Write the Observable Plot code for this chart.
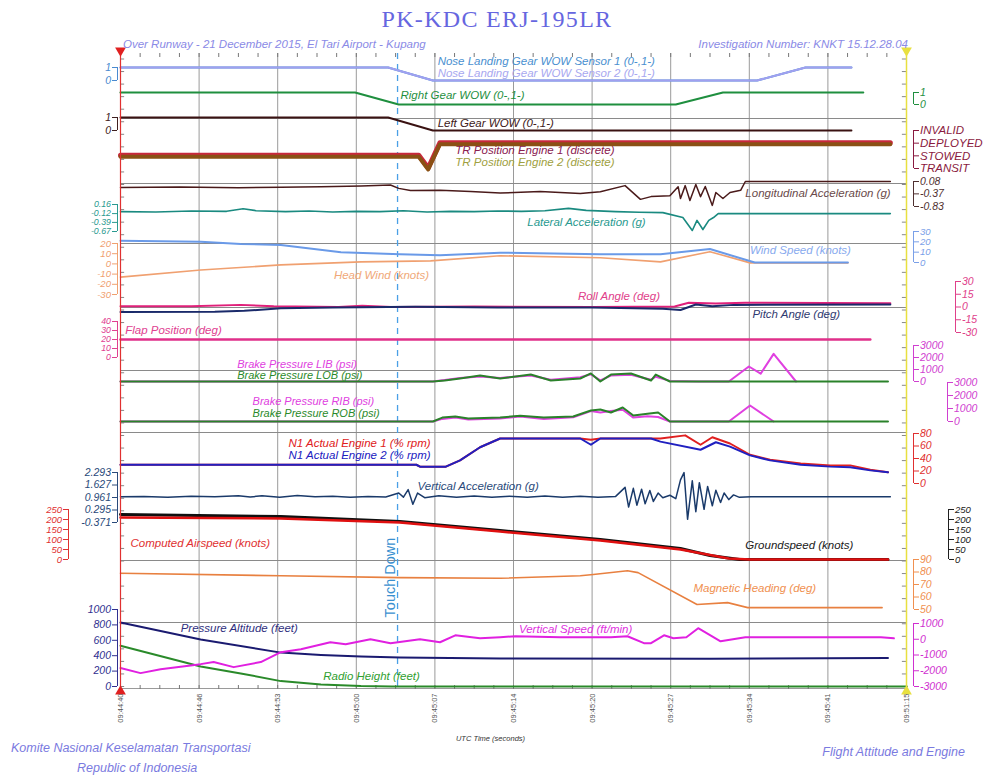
<!DOCTYPE html>
<html><head><meta charset="utf-8">
<script src="https://cdn.jsdelivr.net/npm/d3@7"></script>
<script src="https://cdn.jsdelivr.net/npm/@observablehq/plot@0.6"></script>
<style>
body{margin:0;background:#fff;}
#wrap{position:relative;width:994px;height:776px;overflow:hidden;font-family:"Liberation Sans",Arial,sans-serif;background:#fff;}
#chart{position:absolute;left:0;top:0;}
.t{position:absolute;white-space:nowrap;font-style:italic;transform:translateY(-50%);line-height:1;}
</style></head><body>
<div id="wrap">
  <div id="chart"></div>
  <div class="t" style="left:0;width:994px;text-align:center;top:19px;font-style:normal;font-family:'Liberation Serif','DejaVu Serif',serif;font-size:24px;letter-spacing:1.3px;color:#6666e0;">PK-KDC ERJ-195LR</div>
  <div class="t" style="left:123px;top:45px;font-size:11.5px;color:#8a8ae6;">Over Runway - 21 December 2015, El Tari Airport - Kupang</div>
  <div class="t" style="right:86px;top:45px;font-size:11.5px;color:#8a8ae6;">Investigation Number: KNKT 15.12.28.04</div>
  <div class="t" style="left:11px;top:748px;font-size:12.5px;color:#7a7ae0;">Komite Nasional Keselamatan Transportasi</div>
  <div class="t" style="left:77px;top:768px;font-size:12.5px;color:#7a7ae0;">Republic of Indonesia</div>
  <div class="t" style="right:29px;top:752px;font-size:12.5px;color:#7a7ae0;">Flight Attitude and Engine</div>
</div>
<script>
// ---------------- DATA (time in seconds after 09:44:40, value in channel units) ----------------
const timeTickLabels = ["09:44:40","09:44:46","09:44:53","09:45:00","09:45:07","09:45:14","09:45:20","09:45:27","09:45:34","09:45:41","09:51:15"];
const timeSpan = 66.67;
const touchDownTime = 23.5;

const noseWowSensor1 = [[0,1],[22.7,1],[26.5,0],[54.0,0],[58.1,1],[62.0,1]];
const noseWowSensor2 = [[0,1],[22.7,1],[26.5,0],[54.0,0],[58.1,1],[62.0,1]];
const rightGearWow = [[0,1],[19.9,1],[23.6,0],[47.1,0],[51.1,1],[63.0,1]];
const leftGearWow = [[0,1],[22.7,1],[26.5,0],[62.0,0]];
const trEngine1 = [[0,1],[25.3,1],[26.1,0],[27.1,2],[65.3,2]];
const trEngine2 = [[0,1],[25.3,1],[26.1,0],[27.1,2],[65.3,2]];
const longitudinalAcc = [[0,-0.14],[5,-0.12],[10,-0.15],[13.6,-0.13],[17,-0.11],[20.4,-0.08],[22.9,-0.05],[23.6,-0.17],[24.6,-0.25],[27.1,-0.24],[29.7,-0.28],[32.2,-0.34],[35.6,-0.28],[39.0,-0.36],[40.7,-0.29],[42.8,-0.07],[44.1,-0.57],[45.0,-0.47],[46.6,-0.44],[47.3,-0.11],[47.5,-0.54],[47.9,-0.07],[48.3,-0.61],[48.8,-0.03],[49.2,-0.47],[49.6,-0.10],[50.2,-0.79],[50.5,-0.32],[51.1,-0.54],[51.7,-0.32],[52.6,-0.24],[53.0,0.08],[65.3,0.08]];
const lateralAcc = [[0,-0.06],[3,-0.07],[6,-0.04],[9,-0.05],[10.4,0.03],[11.5,-0.03],[14,-0.06],[16,-0.04],[18,-0.07],[20,-0.05],[22,-0.06],[24,-0.03],[26,-0.07],[28,-0.05],[30,-0.06],[32,-0.04],[34,-0.05],[36,-0.03],[38,0.04],[39.5,-0.02],[42,-0.06],[44,-0.08],[46,-0.09],[47.7,-0.24],[48.5,-0.64],[48.9,-0.33],[49.4,-0.61],[49.9,-0.33],[50.3,-0.24],[50.7,-0.12],[53,-0.12],[65.3,-0.12]];
const windSpeed = [[0,21],[6.8,20],[10.2,18],[13.6,17],[18.7,10],[23.7,8],[27.1,7],[32.2,9.5],[40.7,8],[45.8,8],[50.0,13],[53.8,0],[61.7,0]];
const headWind = [[0,-13],[6.8,-6],[13.6,-1],[20.4,2],[26.3,3],[32.2,8],[40.7,6],[45.8,2],[50.0,12],[53.4,1],[61.7,1]];
const rollAngle = [[0,1],[6,1],[10.2,2.5],[13,1],[18.5,0],[20.5,1.5],[23,0],[30,0.5],[40,0],[47,0.5],[48.2,5],[50.5,4],[53,5],[65.3,4.5]];
const pitchAngle = [[0,-6],[8,-5.5],[10.5,-4.5],[13.6,-1.5],[18,-0.5],[25,0.3],[32,-0.5],[40,-0.5],[46,-2],[47.5,-3.5],[48.8,3],[50.2,1],[52,2.5],[65.3,3]];
const flapPosition = [[0,20],[63.6,20]];
const brakeLIB = [[0,0],[26.5,0],[27.5,120],[28.8,300],[30.5,420],[32.2,300],[34.8,500],[36.5,150],[39,350],[39.9,600],[40.7,100],[41.6,500],[43.3,560],[45,150],[45.4,400],[46.6,50],[49,0],[51.6,0],[53.3,1250],[54.3,650],[55.4,2300],[57.3,0]];
const brakeLOB = [[0,0],[26.5,0],[27.5,80],[28.8,250],[30.5,500],[32.2,250],[34.8,580],[36.5,80],[39,250],[39.9,670],[40.7,0],[41.6,580],[43.3,670],[45,80],[45.4,580],[46.6,0],[65.1,0]];
const brakeRIB = [[0,0],[26.5,0],[27.3,200],[28.4,300],[29.5,150],[32.2,230],[33.9,380],[35.9,200],[38.4,320],[39.9,800],[40.7,700],[41.6,800],[42.6,900],[43.5,300],[44.7,400],[45.6,350],[46.6,0],[51.6,0],[53.4,1230],[55.4,0]];
const brakeROB = [[0,0],[26.5,0],[27.3,300],[28.4,380],[29.5,230],[32.2,300],[33.9,450],[35.9,300],[38.4,380],[39.9,850],[40.7,920],[41.6,690],[42.6,1080],[43.5,460],[44.7,600],[45.6,690],[46.6,0],[65.1,0]];
const n1Engine1 = [[0,30],[25.1,30],[25.4,27],[27.6,27],[28.8,37],[30.5,58],[32.2,72],[39.0,72],[39.9,70],[40.7,72],[45.8,72],[47.9,77],[49.2,62],[50.2,74],[51.7,64],[53.4,46],[55.1,38],[57.7,32],[60.2,29],[61.9,29],[63.6,22],[65.1,18]];
const n1Engine2 = [[0,30],[25.1,30],[25.4,27],[27.6,27],[28.8,37],[30.5,58],[32.2,72],[39.0,72],[39.9,62],[40.7,72],[45.0,72],[45.8,67],[49.2,54],[50.5,66],[51.7,59],[53.4,45],[55.1,37],[57.7,30],[60.2,27],[61.9,26],[63.6,21],[65.1,18]];
const verticalAcc = [[0,1.0],[2,1.02],[4,0.98],[6,1.03],[8,1.0],[10,1.06],[11,0.99],[12,1.05],[13.5,0.97],[15,1.07],[16.5,1.0],[18,1.03],[19.5,0.97],[21,1.02],[22.5,0.99],[23.6,1.2],[24.0,0.98],[24.4,1.38],[24.8,0.6],[25.2,1.2],[25.8,0.95],[27,1.05],[28.5,0.97],[30,1.04],[31.5,0.98],[33,1.03],[34.5,0.97],[36,1.04],[37.5,0.98],[39,1.03],[40.5,0.97],[42,1.02],[42.8,1.5],[43.1,0.45],[43.5,1.45],[43.8,0.55],[44.2,1.4],[44.5,0.63],[44.9,1.33],[45.2,0.75],[45.6,1.2],[46,0.95],[46.6,1.08],[47.1,0.9],[47.5,1.9],[47.8,2.29],[48.1,-0.2],[48.5,1.85],[48.8,0.2],[49.1,1.75],[49.5,0.33],[49.8,1.55],[50.2,0.52],[50.5,1.35],[50.9,0.7],[51.2,1.2],[51.6,0.85],[52.0,1.1],[52.5,0.97],[53.5,1.0],[65.3,1.0]];
const computedAirspeed = [[0,210],[13.6,205],[23.7,185],[32.2,140],[40.7,95],[47.5,50],[51.6,5],[53.4,0],[65.1,0]];
const groundspeed = [[0,225],[13.6,215],[23.7,190],[32.2,145],[40.7,100],[47.5,55],[50,20],[52.5,0],[65.1,0]];
const magneticHeading = [[0,79],[13.6,77],[23.7,75.5],[32.2,75],[39.0,77],[40.1,78],[43.0,81],[43.9,79.5],[48.9,54],[51.5,55.5],[53.2,51.5],[64.6,51.5]];
const pressureAltitude = [[0,830],[6.8,610],[13.6,440],[17,410],[20.4,390],[23.7,378],[32.2,365],[50,360],[65.1,370]];
const radioHeight = [[0,530],[6.8,260],[10.2,170],[13.6,70],[17,25],[20.4,5],[23,0],[66.7,0]];
const verticalSpeed = [[0,-1830],[1.7,-2150],[3.4,-1900],[6.8,-1580],[7.9,-1450],[9.6,-1770],[11.9,-1450],[13.6,-820],[15.3,-630],[17.8,-190],[19.1,-320],[21.2,0],[22.9,-250],[25.4,0],[27.1,-190],[28.4,250],[30.5,60],[32.2,130],[33.5,190],[37.3,130],[41.6,130],[43.0,190],[44.4,-250],[45.0,-250],[46.1,250],[46.9,60],[48.0,130],[49.0,700],[50.9,-130],[53.0,130],[64.5,130],[65.6,60]];

// axis tick values and labels
const binTicks = [1, 0];
const trTicks = [3, 2, 1, 0];
const trLabels = ["INVALID", "DEPLOYED", "STOWED", "TRANSIT"];
const lonTicks = [0.08, -0.37, -0.83];
const latTicks = [0.16, -0.12, -0.39, -0.67];
const headTicks = [20, 10, 0, -10, -20, -30];
const windTicks = [30, 20, 10, 0];
const attTicks = [30, 15, 0, -15, -30];
const flapTicks = [40, 30, 20, 10, 0];
const brakeTicks = [3000, 2000, 1000, 0];
const n1Ticks = [80, 60, 40, 20, 0];
const vaccTicks = [2.293, 1.627, 0.961, 0.295, -0.371];
const speedTicks = [250, 200, 150, 100, 50, 0];
const hdgTicks = [90, 80, 70, 60, 50];
const altTicks = [1000, 800, 600, 400, 200, 0];
const vsTicks = [1000, 0, -1000, -2000, -3000];

// ---------------- LAYOUT ----------------
const TOP_PX = 53, BOTTOM_PX = 688;
const lvPx = px => BOTTOM_PX - px;
// each track: value -> vertical pixel position
const TRACK = {
  nose:[[1,67],[0,80]], rgear:[[1,92],[0,104]], lgear:[[1,117],[0,130]], tr:[[3,130],[0,168]],
  lon:[[0.08,181],[-0.83,206]], lat:[[0.16,204],[-0.67,231]], head:[[20,243],[-30,294]], wind:[[30,231],[0,262]],
  att:[[30,281],[-30,332]], flap:[[40,321],[0,357]], brakeL:[[3000,345],[0,381]], brakeR:[[3000,382],[0,421]],
  n1:[[80,433],[0,483]], vacc:[[2.293,472],[-0.371,522]], spd:[[250,509],[0,559]], hdg:[[90,559],[50,609]],
  alt:[[1000,609],[0,686]], vs:[[1000,623],[-3000,686]]
};
function lv(ch) {
  const [[v0,p0],[v1,p1]] = TRACK[ch];
  return v => BOTTOM_PX - (p0 + (v - v0) * (p1 - p0) / (v1 - v0));
}
const SEPARATORS = [118, 183, 243, 307, 370, 432, 560, 622];

const SERIES = [
  {data: noseWowSensor1, ch:"nose", stroke:"#4a90d0", w:2},
  {data: noseWowSensor2, ch:"nose", stroke:"#a0a0f0", w:2},
  {data: rightGearWow, ch:"rgear", stroke:"#1f8f3f", w:2.2},
  {data: leftGearWow, ch:"lgear", stroke:"#3a1212", w:2},
  {data: trEngine1, ch:"tr", stroke:"#c8283c", w:5, dy:-0.5},
  {data: trEngine2, ch:"tr", stroke:"#8a5014", w:4, dy:1},
  {data: longitudinalAcc, ch:"lon", stroke:"#4a1a1a", w:1.5},
  {data: lateralAcc, ch:"lat", stroke:"#1a8a80", w:1.6},
  {data: headWind, ch:"head", stroke:"#f0a070", w:1.6},
  {data: windSpeed, ch:"wind", stroke:"#6a9ae8", w:2},
  {data: rollAngle, ch:"att", stroke:"#e0207a", w:2},
  {data: pitchAngle, ch:"att", stroke:"#1a2a6a", w:2},
  {data: flapPosition, ch:"flap", stroke:"#e0308a", w:2.5},
  {data: brakeLIB, ch:"brakeL", stroke:"#e040e0", w:2},
  {data: brakeLOB, ch:"brakeL", stroke:"#2a822a", w:2},
  {data: brakeRIB, ch:"brakeR", stroke:"#e040e0", w:2},
  {data: brakeROB, ch:"brakeR", stroke:"#2a822a", w:2},
  {data: n1Engine1, ch:"n1", stroke:"#e02020", w:2},
  {data: n1Engine2, ch:"n1", stroke:"#2020c0", w:2},
  {data: verticalAcc, ch:"vacc", stroke:"#1a3a6a", w:1.5},
  {data: groundspeed, ch:"spd", stroke:"#101010", w:3},
  {data: computedAirspeed, ch:"spd", stroke:"#e01010", w:2.5},
  {data: magneticHeading, ch:"hdg", stroke:"#e88040", w:1.6},
  {data: pressureAltitude, ch:"alt", stroke:"#1a1a70", w:2},
  {data: radioHeight, ch:"alt", stroke:"#2a8a2a", w:2},
  {data: verticalSpeed, ch:"vs", stroke:"#e020e0", w:2}
];

const AXES = [
  {ch:"nose", side:"left", dx:-3, ticks:binTicks, color:"#4a8ad0"},
  {ch:"rgear", side:"right", dx:7, ticks:binTicks, color:"#1f8f3f"},
  {ch:"lgear", side:"left", dx:-3, ticks:binTicks, color:"#402020"},
  {ch:"tr", side:"right", dx:7, ticks:trTicks, labels:trLabels, color:"#8a1a40", size:11.5},
  {ch:"lon", side:"right", dx:7, ticks:lonTicks, color:"#503030"},
  {ch:"lat", side:"left", dx:-3, ticks:latTicks, color:"#2a9a90", size:8.8},
  {ch:"head", side:"left", dx:-3, ticks:headTicks, color:"#f0a070", size:9.6},
  {ch:"wind", side:"right", dx:7, ticks:windTicks, color:"#7aa0e8", size:9.6},
  {ch:"att", side:"right", dx:49, ticks:attTicks, color:"#e0408a"},
  {ch:"flap", side:"left", dx:-3, ticks:flapTicks, color:"#e04090", size:8.8},
  {ch:"brakeL", side:"right", dx:7, ticks:brakeTicks, color:"#d040d0"},
  {ch:"brakeR", side:"right", dx:41, ticks:brakeTicks, color:"#d040d0"},
  {ch:"n1", side:"right", dx:7, ticks:n1Ticks, color:"#e03030"},
  {ch:"vacc", side:"left", dx:-3, ticks:vaccTicks, labels:vaccTicks.map(v=>v.toFixed(3)), color:"#2a4a7a"},
  {ch:"spd", side:"left", dx:-52, ticks:speedTicks, color:"#e03030", size:9.5},
  {ch:"spd", side:"right", dx:42, ticks:speedTicks, color:"#202020", size:9.5},
  {ch:"hdg", side:"right", dx:7, ticks:hdgTicks, color:"#f09050"},
  {ch:"alt", side:"left", dx:-3, ticks:altTicks, color:"#303090"},
  {ch:"vs", side:"right", dx:7, ticks:vsTicks, color:"#d030d0"}
];

const LABELS = [
  {text:"Nose Landing Gear WOW Sensor 1 (0-,1-)", ch:"nose", t:26.9, v:1.46, color:"#4a90d0"},
  {text:"Nose Landing Gear WOW Sensor 2 (0-,1-)", ch:"nose", t:26.9, v:0.54, color:"#a8a8f0"},
  {text:"Right Gear WOW (0-,1-)", ch:"rgear", t:23.75, v:0.75, color:"#1f8f3f"},
  {text:"Left Gear WOW (0-,1-)", ch:"lgear", t:26.9, v:0.54, color:"#402020"},
  {text:"TR Position Engine 1 (discrete)", ch:"tr", t:28.4, v:1.42, color:"#8a2050"},
  {text:"TR Position Engine 2 (discrete)", ch:"tr", t:28.4, v:0.47, color:"#a0a040"},
  {text:"Longitudinal Acceleration (g)", ch:"lon", t:53.0, v:-0.36, color:"#6a4a4a"},
  {text:"Lateral Acceleration (g)", ch:"lat", t:34.5, v:-0.39, color:"#2a9a90"},
  {text:"Wind Speed (knots)", ch:"wind", t:53.4, v:11.6, color:"#88aaee"},
  {text:"Head Wind (knots)", ch:"head", t:18.1, v:-11.4, color:"#f0a878"},
  {text:"Roll Angle (deg)", ch:"att", t:38.8, v:12.4, color:"#e0408a"},
  {text:"Pitch Angle (deg)", ch:"att", t:53.6, v:-8.2, color:"#303a70"},
  {text:"Flap Position (deg)", ch:"flap", t:0.4, v:30, color:"#e04090"},
  {text:"Brake Pressure LIB (psi)", ch:"brakeL", t:9.9, v:1417, color:"#e040e0", size:11},
  {text:"Brake Pressure LOB (psi)", ch:"brakeL", t:9.9, v:500, color:"#2a8a2a", size:11},
  {text:"Brake Pressure RIB (psi)", ch:"brakeR", t:11.2, v:1540, color:"#e040e0", size:11},
  {text:"Brake Pressure ROB (psi)", ch:"brakeR", t:11.2, v:650, color:"#2a8a2a", size:11},
  {text:"N1 Actual Engine 1 (% rpm)", ch:"n1", t:14.25, v:64, color:"#e02020"},
  {text:"N1 Actual Engine 2 (% rpm)", ch:"n1", t:14.25, v:44.8, color:"#2020c0"},
  {text:"Vertical Acceleration (g)", ch:"vacc", t:25.2, v:1.547, color:"#2a4a7a"},
  {text:"Computed Airspeed (knots)", ch:"spd", t:0.85, v:80, color:"#e03030"},
  {text:"Groundspeed (knots)", ch:"spd", t:53.0, v:70, color:"#202020"},
  {text:"Magnetic Heading (deg)", ch:"hdg", t:48.6, v:66.8, color:"#f09050"},
  {text:"Pressure Altitude (feet)", ch:"alt", t:5.1, v:754, color:"#303080"},
  {text:"Vertical Speed (ft/min)", ch:"vs", t:33.8, v:619, color:"#e030e0"},
  {text:"Radio Height (feet)", ch:"alt", t:17.2, v:130, color:"#30a030"}
];

// ---------------- MARKS ----------------
const majorTimes = timeTickLabels.map((_, i) => i * timeSpan / (timeTickLabels.length - 1));
const minorTimes = d3.range(0, 41).map(i => i * timeSpan / 40);
const minorLevels = d3.range(lvPx(BOTTOM_PX - 2), lvPx(TOP_PX + 2), 12.55);
const tFmt = new Map(majorTimes.map((t, i) => [t, timeTickLabels[i]]));

function bracketAxis(a) {
  const f = lv(a.ch);
  const pos = a.ticks.map(f);
  const labels = a.labels || a.ticks.map(String);
  const fmt = new Map(pos.map((p, i) => [p, labels[i]]));
  const edge = a.side === "left" ? 0 : timeSpan;
  return [
    Plot.axisY({anchor: a.side, ticks: pos, tickFormat: p => fmt.get(p), tickSize: 5, tickPadding: 1.5,
      dx: a.dx, color: a.color, fontSize: a.size || 10.5, fontStyle: "italic", label: null}),
    Plot.ruleX([edge], {y1: d3.min(pos), y2: d3.max(pos), dx: a.dx, stroke: a.color})
  ];
}

const marks = [
  Plot.ruleX(majorTimes.slice(1, -1), {stroke: "#9a9a9a", strokeWidth: 1}),
  Plot.ruleY(SEPARATORS.map(lvPx), {stroke: "#8a8a8a", strokeWidth: 1}),
  Plot.ruleY([lvPx(BOTTOM_PX)], {stroke: "#9a9a9a"}),
  Plot.ruleX(minorTimes, {y1: lvPx(TOP_PX), y2: lvPx(TOP_PX + 4), stroke: "#777"}),
  Plot.ruleX(minorTimes, {y1: lvPx(BOTTOM_PX - 3), y2: lvPx(BOTTOM_PX + 1), stroke: "#777"}),
  Plot.ruleY(minorLevels, {x1: 0, x2: 0.35, stroke: "#888"}),
  Plot.ruleY(minorLevels, {x1: timeSpan - 0.35, x2: timeSpan, stroke: "#888"}),
  Plot.ruleX([touchDownTime], {stroke: "#4aa0e6", strokeDasharray: "6,5", strokeWidth: 1.3}),
  ...SERIES.map(s => Plot.line(s.data, {x: d => d[0], y: d => lv(s.ch)(d[1]), stroke: s.stroke,
      strokeWidth: s.w, dy: s.dy || 0, strokeLinejoin: "round"})),
  Plot.ruleX([0], {stroke: "#e03030", strokeWidth: 1.2}),
  Plot.ruleX([timeSpan], {stroke: "#e8e040", strokeWidth: 1.5}),
  Plot.dot([0], {x: d => d, y: lvPx(50), symbol: "triangle", r: 4, fill: "#e02020", rotate: 180}),
  Plot.dot([0], {x: d => d, y: lvPx(691), symbol: "triangle", r: 4, fill: "#e02020"}),
  Plot.dot([timeSpan], {x: d => d, y: lvPx(50), symbol: "triangle", r: 4, fill: "#e8e040", rotate: 180}),
  Plot.dot([timeSpan], {x: d => d, y: lvPx(691), symbol: "triangle", r: 4, fill: "#e8e040"}),
  ...AXES.flatMap(bracketAxis),
  ...LABELS.map(l => Plot.text([l], {x: "t", y: d => lv(d.ch)(d.v), text: "text", fill: l.color,
      textAnchor: "start", fontSize: l.size || 11.5, fontStyle: "italic"})),
  Plot.text(["Touch Down"], {x: touchDownTime, y: lvPx(577), text: d => d, rotate: -90, dx: -7,
      fill: "#3a90d0", fontSize: 14.5}),
  Plot.axisX({anchor: "bottom", ticks: majorTimes, tickFormat: t => tFmt.get(t), tickRotate: -90, tickSize: 0,
      tickPadding: 5, fontSize: 7.5, color: "#555", label: null}),
  Plot.text(["UTC Time (seconds)"], {frameAnchor: "bottom", dy: 52, dx: -23, text: d => d, fontSize: 7.5,
      fontStyle: "italic", fill: "#333"})
];

const chart = Plot.plot({
  width: 994, height: 776,
  marginLeft: 120, marginRight: 88, marginTop: 53, marginBottom: 88,
  x: {domain: [0, timeSpan], range: [120, 906]},
  y: {domain: [0, BOTTOM_PX - TOP_PX], range: [BOTTOM_PX, TOP_PX]},
  style: {fontFamily: "'Liberation Sans', Arial, sans-serif", background: "transparent", overflow: "visible"},
  marks
});
document.getElementById("chart").appendChild(chart);
</script>
</body></html>
